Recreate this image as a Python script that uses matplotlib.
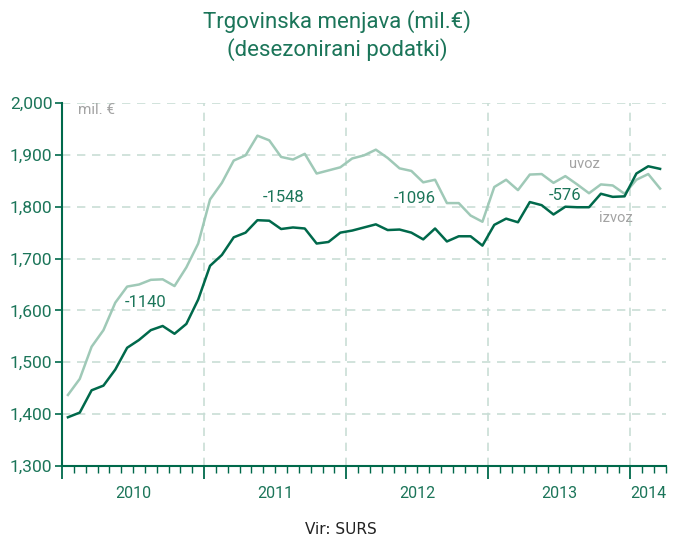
import matplotlib
matplotlib.use("Agg")
import matplotlib.pyplot as plt
from matplotlib.ticker import FixedLocator, MultipleLocator, FuncFormatter

plt.rcParams['font.family'] = ['Roboto', 'DejaVu Sans']

# Monthly data Jan 2010 - Mar 2014 (mil. EUR, seasonally adjusted)
uvoz = [1437, 1468, 1530, 1562, 1615, 1646, 1650, 1659, 1660, 1647, 1683, 1729,
        1814, 1846, 1889, 1899, 1937, 1928, 1896, 1891, 1902, 1864, 1870, 1876,
        1893, 1899, 1910, 1894, 1874, 1869, 1847, 1852, 1807, 1807, 1783, 1771,
        1838, 1852, 1832, 1862, 1863, 1846, 1859, 1843, 1826, 1843, 1841, 1825,
        1852, 1863, 1835]
izvoz = [1394, 1403, 1446, 1455, 1486, 1528, 1543, 1562, 1570, 1555, 1574, 1621,
         1686, 1707, 1741, 1750, 1774, 1773, 1757, 1760, 1758, 1729, 1732, 1750,
         1754, 1760, 1766, 1755, 1756, 1750, 1737, 1758, 1733, 1743, 1743, 1725,
         1765, 1777, 1770, 1809, 1803, 1785, 1800, 1799, 1799, 1825, 1819, 1820,
         1864, 1878, 1873]
years = ['2010', '2011', '2012', '2013', '2014']
year_centers = [6, 18, 30, 42, 49.5]
balances = ['-1140', '-1548', '-1096', '-576']
balance_pos = [(7.1, 1616), (18.7, 1818), (29.8, 1816), (42.5, 1821)]

dark = '#00694b'
light = '#9fc9b7'
txt = '#1b7559'
grid_c = '#c9ded6'
gray = '#a3a3a3'

fig = plt.figure(figsize=(6.74, 5.37), dpi=100)
ax = fig.add_axes([62/674, 1-466/537, (666-62)/674, (466-103)/537])

x = [i + 0.5 for i in range(len(uvoz))]
ax.plot(x, uvoz, color=light, lw=1.8, zorder=3)
ax.plot(x, izvoz, color=dark, lw=1.8, zorder=4)

ax.set_xlim(0, 51)
ax.set_ylim(1300, 2000)

for s in ['top', 'right']:
    ax.spines[s].set_visible(False)
for s in ['left', 'bottom']:
    ax.spines[s].set_color(dark)
    ax.spines[s].set_linewidth(1.5)

ax.yaxis.set_major_locator(MultipleLocator(100))
ax.yaxis.set_major_formatter(FuncFormatter(lambda v, p: f'{int(v):,}'))
ax.tick_params(axis='y', colors=dark, labelcolor=txt, labelsize=12.5, length=5, width=1.2, pad=2)
ax.grid(axis='y', color=grid_c, ls=(0, (5, 4)), lw=1.2, zorder=1)

ax.xaxis.set_major_locator(FixedLocator([0, 12, 24, 36, 48]))
ax.xaxis.set_minor_locator(FixedLocator([m for m in range(52) if m % 12 != 0]))
ax.xaxis.set_major_formatter(FuncFormatter(lambda v, p: ''))
ax.tick_params(axis='x', which='major', colors=dark, direction='out', length=9, width=1.3)
ax.tick_params(axis='x', which='minor', colors=dark, direction='out', length=5, width=1.0)
for xv in [12, 24, 36, 48]:
    ax.axvline(xv, color=grid_c, ls=(0, (5, 4)), lw=1.2, zorder=1)

for yr, c in zip(years, year_centers):
    ax.text(c, -0.055, yr, transform=ax.get_xaxis_transform(), ha='center', va='top',
            color=txt, fontsize=11.5)

for b, (bx, by) in zip(balances, balance_pos):
    ax.text(bx, by, b, ha='center', va='center', color=txt, fontsize=12, zorder=5)

ax.text(44.1, 1882, 'uvoz', ha='center', va='center', color=gray, fontsize=10.5)
ax.text(46.8, 1778, 'izvoz', ha='center', va='center', color=gray, fontsize=10.5)
ax.text(1.35, 1986, 'mil. €', ha='left', va='center', color=gray, fontsize=11)

fig.text(337/674, 1-22/537, 'Trgovinska menjava (mil.€)', ha='center', va='center',
         color=txt, fontsize=16)
fig.text(337/674, 1-50/537, '(desezonirani podatki)', ha='center', va='center',
         color=txt, fontsize=16)
fig.text(341/674, 1-530/537, 'Vir: SURS', ha='center', va='center', color='#222222',
         fontsize=11, family='DejaVu Sans')

fig.savefig('out.png', dpi=100)
